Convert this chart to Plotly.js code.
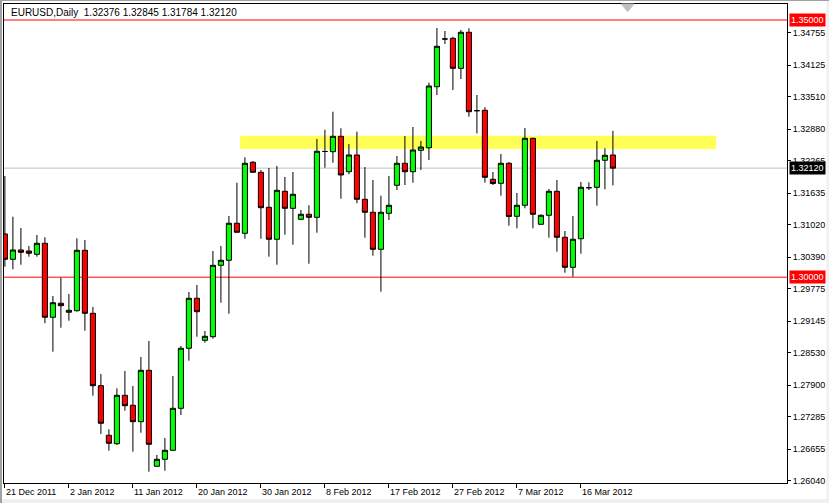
<!DOCTYPE html>
<html>
<head>
<meta charset="utf-8">
<script src="https://cdn.plot.ly/plotly-3.0.1.min.js"></script>
<style>
  html, body { margin: 0; padding: 0; background: #ffffff; }
  #chart { width: 829px; height: 503px; }
</style>
</head>
<body>
<div id="chart"></div>
<script>
// ---- data (EURUSD daily) ----
const dates = [
  '2011-12-21','2011-12-22','2011-12-23','2011-12-26','2011-12-27','2011-12-28','2011-12-29','2011-12-30',
  '2012-01-02','2012-01-03','2012-01-04','2012-01-05','2012-01-06','2012-01-08','2012-01-09','2012-01-10',
  '2012-01-11','2012-01-12','2012-01-13','2012-01-15','2012-01-16','2012-01-17','2012-01-18','2012-01-19',
  '2012-01-20','2012-01-22','2012-01-23','2012-01-24','2012-01-25','2012-01-26','2012-01-27','2012-01-29',
  '2012-01-30','2012-01-31','2012-02-01','2012-02-02','2012-02-03','2012-02-05','2012-02-06','2012-02-07',
  '2012-02-08','2012-02-09','2012-02-10','2012-02-12','2012-02-13','2012-02-14','2012-02-15','2012-02-16',
  '2012-02-17','2012-02-19','2012-02-20','2012-02-21','2012-02-22','2012-02-23','2012-02-24','2012-02-26',
  '2012-02-27','2012-02-28','2012-02-29','2012-03-01','2012-03-02','2012-03-04','2012-03-05','2012-03-06',
  '2012-03-07','2012-03-08','2012-03-09','2012-03-11','2012-03-12','2012-03-13','2012-03-14','2012-03-15',
  '2012-03-16','2012-03-18','2012-03-19','2012-03-20','2012-03-21'
];
const open = [
  1.30840,1.30348,1.30529,1.30509,1.30445,1.30659,1.29221,1.29493,
  1.29318,1.29349,1.30523,1.29298,1.27891,1.26927,1.26763,1.27704,
  1.27510,1.27191,1.28190,1.26324,1.26460,1.26635,1.27451,1.28618,
  1.29590,1.28773,1.28843,1.30231,1.30329,1.31048,1.30853,1.32234,
  1.32039,1.31359,1.30737,1.31670,1.31339,1.31126,1.31223,1.31164,
  1.32444,1.32440,1.32739,1.32051,1.32376,1.31514,1.31262,1.30542,
  1.31242,1.31787,1.32214,1.32051,1.32467,1.32517,1.33703,1.34631,
  1.34644,1.34061,1.34761,1.33237,1.33245,1.31903,1.31825,1.32214,
  1.31184,1.31398,1.32700,1.31028,1.31203,1.31670,1.30776,1.30192,
  1.30748,1.31740,1.31748,1.32273,1.32376
];
const high = [
  1.31967,1.31176,1.30957,1.30607,1.30820,1.30776,1.29635,1.29990,
  1.29673,1.30756,1.30723,1.29421,1.28118,1.27043,1.27840,1.28177,
  1.27885,1.28449,1.28760,1.26544,1.26874,1.28079,1.28663,1.29712,
  1.29848,1.28954,1.30509,1.30607,1.31190,1.31837,1.32331,1.32259,
  1.32084,1.32123,1.32162,1.31948,1.32045,1.31306,1.31398,1.32687,
  1.32867,1.33217,1.32895,1.32589,1.32829,1.32142,1.31890,1.31584,
  1.31967,1.32356,1.32745,1.32920,1.32648,1.33781,1.34845,1.34786,
  1.34675,1.34806,1.34839,1.33542,1.33303,1.32045,1.32395,1.32240,
  1.31637,1.32900,1.32710,1.31223,1.31715,1.31890,1.30898,1.31190,
  1.31851,1.31845,1.32648,1.32506,1.32845
];
const low = [
  1.30204,1.30154,1.30243,1.30399,1.30399,1.29104,1.28552,1.29018,
  1.29154,1.29329,1.28960,1.27696,1.26952,1.26627,1.26738,1.27405,
  1.26608,1.26977,1.26219,1.26324,1.26238,1.26625,1.27321,1.28377,
  1.28843,1.28727,1.28805,1.29504,1.29290,1.30873,1.30748,1.32039,
  1.30748,1.30399,1.30243,1.30826,1.30632,1.31106,1.30262,1.30865,
  1.32129,1.32226,1.31526,1.32000,1.31437,1.30768,1.30418,1.29718,
  1.31112,1.31695,1.31792,1.31837,1.32084,1.32278,1.33542,1.34533,
  1.33639,1.33853,1.33120,1.32794,1.31837,1.31792,1.31584,1.31001,
  1.30951,1.31339,1.30951,1.31028,1.30768,1.30496,1.30087,1.30010,
  1.30457,1.31695,1.31390,1.31709,1.31784
];
const close = [
  1.30348,1.30529,1.30484,1.30465,1.30659,1.29221,1.29504,1.29446,
  1.29357,1.30523,1.29298,1.27891,1.27160,1.26771,1.27704,1.27502,
  1.27191,1.28190,1.26752,1.26460,1.26635,1.27451,1.28618,1.29590,
  1.29329,1.28851,1.30231,1.30329,1.31048,1.30873,1.32214,1.32039,
  1.31351,1.30737,1.31689,1.31339,1.31612,1.31223,1.31164,1.32448,
  1.32444,1.32739,1.31987,1.32376,1.31514,1.31262,1.30542,1.31262,
  1.31398,1.32214,1.32051,1.32473,1.32531,1.33717,1.34489,1.34631,
  1.34061,1.34761,1.33217,1.33237,1.31942,1.31822,1.32214,1.31180,
  1.31398,1.32700,1.31223,1.31203,1.31670,1.30776,1.30192,1.30737,
  1.31748,1.31740,1.32273,1.32370,1.32120
];

// axis labels
const priceTicks = [1.34755,1.34125,1.33510,1.32880,1.32265,1.31635,1.31020,1.30390,
                    1.29775,1.29145,1.28530,1.27900,1.27285,1.26655,1.26040];
const dateTickVals = ['2011-12-21','2012-01-02','2012-01-11','2012-01-20','2012-01-30',
                      '2012-02-08','2012-02-17','2012-02-27','2012-03-07','2012-03-16'];
const dateTickText = ['21 Dec 2011','2 Jan 2012','11 Jan 2012','20 Jan 2012','30 Jan 2012',
                      '8 Feb 2012','17 Feb 2012','27 Feb 2012','7 Mar 2012','16 Mar 2012'];

// levels
const levelHigh = 1.35000;
const levelLow = 1.30000;
const lastPrice = 1.32120;
const zoneTop = 1.32750;
const zoneBottom = 1.32492;
const titleText = 'EURUSD,Daily  1.32376 1.32845 1.31784 1.32120';

// ---- chart ----
const FONT = 'Liberation Sans, Arial, sans-serif';

const trace = {
  type: 'candlestick',
  x: dates, open: open, high: high, low: low, close: close,
  increasing: { fillcolor: '#00ff00', line: { color: '#000000', width: 1 } },
  decreasing: { fillcolor: '#ff0000', line: { color: '#000000', width: 1 } },
  whiskerwidth: 0,
  hoverinfo: 'x+y'
};

const layout = {
  width: 829, height: 503,
  margin: { l: 4, r: 42, t: 4, b: 20 },
  paper_bgcolor: '#ffffff', plot_bgcolor: '#ffffff',
  showlegend: false,
  boxgap: 0.2, boxgroupgap: 0.2,
  font: { family: FONT, size: 9, color: '#000000' },
  xaxis: {
    type: 'category',
    range: [-0.1125, 97.76],
    rangeslider: { visible: false },
    showgrid: false, zeroline: false,
    showline: true, linecolor: '#000000', linewidth: 1, mirror: true,
    ticks: 'outside', ticklen: 4, tickcolor: '#000000', tickwidth: 1,
    tickmode: 'array', tickvals: dateTickVals, ticktext: dateTickText,
    ticklabelposition: 'outside right',
    tickfont: { family: FONT, size: 9, color: '#000000' },
    fixedrange: true
  },
  yaxis: {
    side: 'right',
    range: [1.25999, 1.35311],
    showgrid: false, zeroline: false,
    showline: true, linecolor: '#000000', linewidth: 1, mirror: true,
    ticks: 'outside', ticklen: 3, tickcolor: '#000000', tickwidth: 1,
    tickmode: 'array', tickvals: priceTicks,
    ticktext: priceTicks.map(v => v.toFixed(5)),
    tickfont: { family: FONT, size: 9, color: '#000000' },
    fixedrange: true
  },
  shapes: [
    // support/resistance zone (x in candle-slot units on the category axis)
    { type: 'rect', layer: 'below', xref: 'x', yref: 'y',
      x0: 29.4, x1: 88.9, y0: zoneBottom, y1: zoneTop,
      fillcolor: '#ffff55', line: { width: 0 } },
    { type: 'line', layer: 'below', xref: 'paper', yref: 'y', x0: 0, x1: 1, y0: lastPrice, y1: lastPrice,
      line: { color: '#c0c0c0', width: 1 } },
    { type: 'line', layer: 'below', xref: 'paper', yref: 'y', x0: 0, x1: 1, y0: levelHigh, y1: levelHigh,
      line: { color: '#ff0000', width: 1 } },
    { type: 'line', layer: 'below', xref: 'paper', yref: 'y', x0: 0, x1: 1, y0: levelLow, y1: levelLow,
      line: { color: '#ff0000', width: 1 } },
    { type: 'path', xref: 'paper', yref: 'paper',
      path: 'M 0.7885 1 L 0.8045 1 L 0.7965 0.984 Z',
      fillcolor: '#c0c0c0', line: { color: '#c0c0c0', width: 1 } },
    // window edges
    { type: 'rect', layer: 'below', xref: 'paper', yref: 'paper', x0: -0.0052, x1: 1.0537, y0: -0.0335, y1: -0.0430,
      fillcolor: '#f0f0f0', line: { width: 0 } },
    { type: 'rect', layer: 'below', xref: 'paper', yref: 'paper', x0: 1.0505, x1: 1.0537, y0: -0.0430, y1: 1.0085,
      fillcolor: '#f0f0f0', line: { width: 0 } },
    { type: 'rect', layer: 'below', xref: 'paper', yref: 'paper', x0: -0.0052, x1: -0.0026, y0: -0.0430, y1: 1.0085,
      fillcolor: '#a0a0a0', line: { width: 0 } },
    { type: 'rect', layer: 'below', xref: 'paper', yref: 'paper', x0: -0.0052, x1: 1.0537, y0: 1.0064, y1: 1.0085,
      fillcolor: '#a0a0a0', line: { width: 0 } }
  ],
  annotations: [
    { xref: 'paper', yref: 'paper', x: 0.007, y: 0.983, xanchor: 'left', yanchor: 'middle',
      text: titleText, showarrow: false, font: { family: FONT, size: 10, color: '#000000' } },
    { xref: 'paper', yref: 'y', x: 1, y: levelHigh, xanchor: 'left', yanchor: 'middle', xshift: 2,
      text: levelHigh.toFixed(5), showarrow: false, bgcolor: '#ff0000', borderpad: 1,
      font: { family: FONT, size: 9, color: '#ffffff' } },
    { xref: 'paper', yref: 'y', x: 1, y: levelLow, xanchor: 'left', yanchor: 'middle', xshift: 2,
      text: levelLow.toFixed(5), showarrow: false, bgcolor: '#ff0000', borderpad: 1,
      font: { family: FONT, size: 9, color: '#ffffff' } },
    { xref: 'paper', yref: 'y', x: 1, y: lastPrice, xanchor: 'left', yanchor: 'middle', xshift: 2,
      text: lastPrice.toFixed(5), showarrow: false, bgcolor: '#000000', borderpad: 1,
      font: { family: FONT, size: 9, color: '#ffffff' } }
  ]
};

Plotly.newPlot('chart', [trace], layout, { displayModeBar: false, staticPlot: true });
</script>
</body>
</html>
